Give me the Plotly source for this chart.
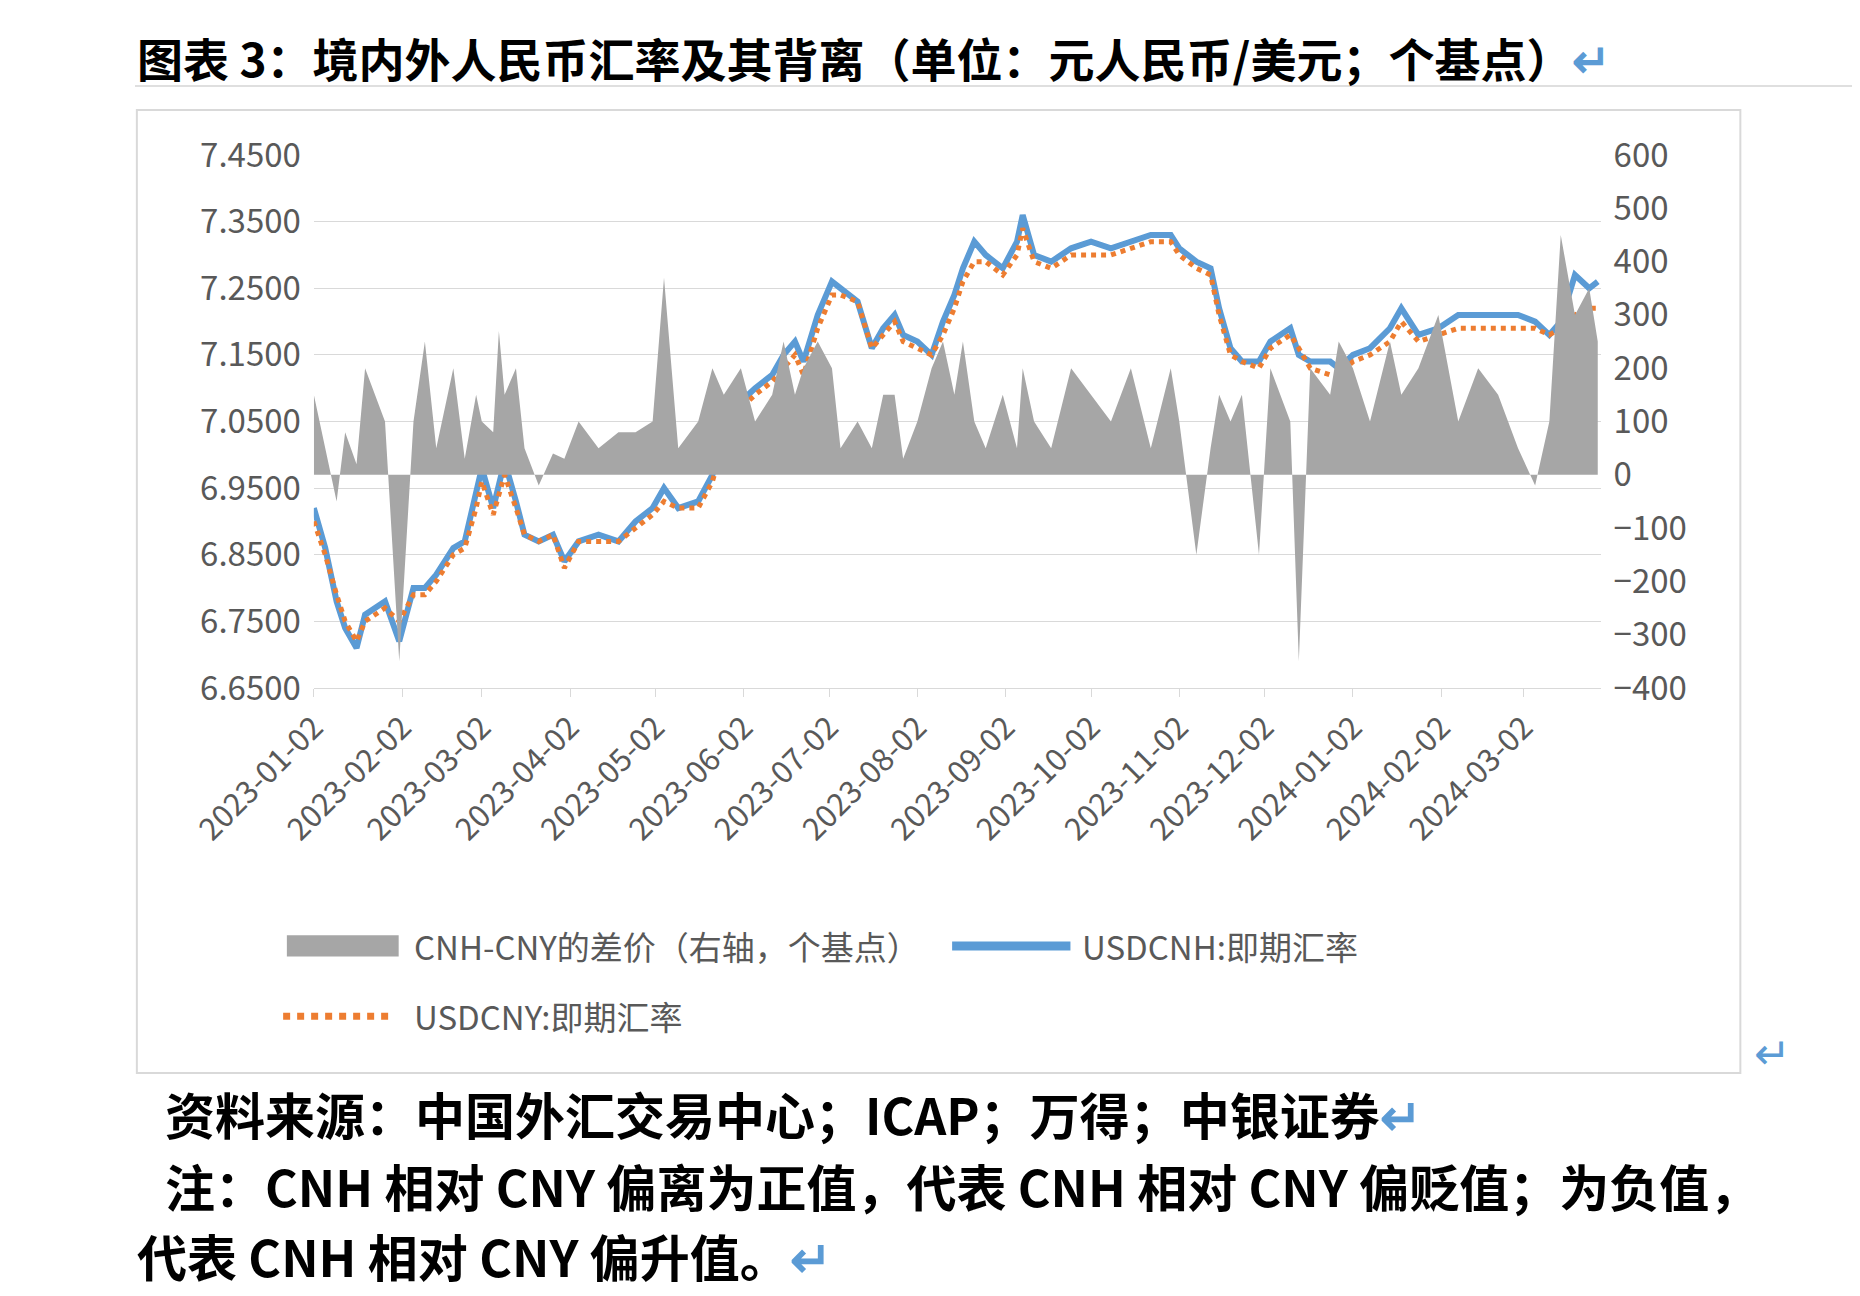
import plotly.graph_objects as go

dates = ["2023-01-02","2023-01-06","2023-01-10","2023-01-13","2023-01-17","2023-01-20","2023-01-27","2023-02-01","2023-02-06","2023-02-10",
"2023-02-14","2023-02-20","2023-02-24","2023-02-28","2023-03-02","2023-03-06","2023-03-08","2023-03-10","2023-03-14","2023-03-17",
"2023-03-22","2023-03-27","2023-03-31","2023-04-05","2023-04-12","2023-04-19","2023-04-25","2023-05-01","2023-05-05","2023-05-10",
"2023-05-17","2023-05-22","2023-05-26","2023-06-01","2023-06-06","2023-06-12","2023-06-16","2023-06-20","2023-06-23","2023-06-28",
"2023-07-03","2023-07-06","2023-07-12","2023-07-17","2023-07-21","2023-07-25","2023-07-28","2023-08-02","2023-08-07","2023-08-11",
"2023-08-15","2023-08-18","2023-08-22","2023-08-26","2023-09-01","2023-09-06","2023-09-08","2023-09-12","2023-09-18","2023-09-25",
"2023-10-02","2023-10-09","2023-10-16","2023-10-23","2023-10-30","2023-11-02","2023-11-08","2023-11-13","2023-11-16","2023-11-20",
"2023-11-24","2023-11-30","2023-12-04","2023-12-11","2023-12-14","2023-12-18","2023-12-25","2023-12-28","2024-01-02","2024-01-08",
"2024-01-15","2024-01-19","2024-01-25","2024-02-01","2024-02-08","2024-02-15","2024-02-22","2024-02-29","2024-03-06","2024-03-11",
"2024-03-15","2024-03-20","2024-03-25","2024-03-28"]
usdcnh = [6.92,6.86,6.78,6.74,6.71,6.76,6.78,6.72,6.80,6.80,
6.82,6.86,6.87,6.94,6.98,6.92,6.96,6.99,6.93,6.88,
6.87,6.88,6.84,6.87,6.88,6.87,6.90,6.92,6.95,6.92,
6.93,6.97,7.04,7.08,7.10,7.12,7.15,7.17,7.14,7.21,
7.26,7.25,7.23,7.16,7.19,7.21,7.18,7.17,7.15,7.20,
7.24,7.28,7.32,7.30,7.28,7.32,7.36,7.30,7.29,7.31,
7.32,7.31,7.32,7.33,7.33,7.31,7.29,7.28,7.22,7.16,
7.14,7.14,7.17,7.19,7.15,7.14,7.14,7.13,7.15,7.16,
7.19,7.22,7.18,7.19,7.21,7.21,7.21,7.21,7.20,7.18,
7.20,7.27,7.25,7.26]
usdcny = [6.90,6.85,6.79,6.75,6.72,6.75,6.77,6.75,6.79,6.79,
6.81,6.85,6.86,6.92,6.96,6.91,6.94,6.97,6.92,6.88,
6.87,6.88,6.83,6.87,6.87,6.87,6.89,6.91,6.93,6.92,
6.92,6.96,7.02,7.07,7.09,7.11,7.13,7.15,7.12,7.19,
7.24,7.24,7.23,7.16,7.18,7.20,7.17,7.16,7.15,7.18,
7.22,7.26,7.29,7.29,7.27,7.30,7.34,7.29,7.28,7.30,
7.30,7.30,7.31,7.32,7.32,7.30,7.28,7.27,7.21,7.15,
7.14,7.13,7.16,7.18,7.16,7.13,7.12,7.12,7.14,7.15,
7.17,7.20,7.17,7.18,7.19,7.19,7.19,7.19,7.19,7.18,
7.19,7.21,7.22,7.22]
spread = [150,50,-50,80,20,200,100,-350,100,250,
50,200,30,150,100,80,270,150,200,50,
-20,40,30,100,50,80,80,100,370,50,
100,200,150,200,100,150,250,150,200,250,
200,50,100,50,150,150,30,100,200,250,
150,250,100,50,150,50,200,100,50,200,
150,100,200,50,200,100,-150,50,150,100,
150,-150,200,100,-350,200,150,250,200,100,
250,150,200,300,100,200,150,50,-20,100,
450,300,350,250]
y_ticks = [6.65,6.75,6.85,6.95,7.05,7.15,7.25,7.35,7.45]
y2_ticks = [-400,-300,-200,-100,0,100,200,300,400,500,600]
x_ticks = ["2023-01-02","2023-02-02","2023-03-02","2023-04-02","2023-05-02","2023-06-02","2023-07-02",
"2023-08-02","2023-09-02","2023-10-02","2023-11-02","2023-12-02","2024-01-02","2024-02-02","2024-03-02"]

BLUE = "#5B9BD5"; ORANGE = "#ED7D31"; GRAY = "#A6A6A6"
TXT = "#595959"
CJK = "Noto Sans CJK SC"
W, H = 1860, 1296

fig = go.Figure()
fig.add_trace(go.Scatter(x=dates, y=spread, yaxis="y2", fill="tozeroy", mode="lines",
                         line=dict(width=0, color=GRAY), fillcolor=GRAY, showlegend=False))
fig.add_trace(go.Scatter(x=dates, y=usdcnh, mode="lines", line=dict(color=BLUE, width=6), showlegend=False))
fig.add_trace(go.Scatter(x=dates, y=usdcny, mode="lines", line=dict(color=ORANGE, width=5, dash="dot"), showlegend=False))

fig.update_layout(
    width=W, height=H, margin=dict(l=0, r=0, t=0, b=0),
    paper_bgcolor="white", plot_bgcolor="white",
    font=dict(family=CJK, color=TXT, size=30),
    xaxis=dict(domain=[0.1032, 0.8457], range=["2023-01-02", "2024-03-29"], tickvals=x_ticks,
               ticktext=x_ticks, tickangle=-45, showgrid=False, showline=True, linecolor="#D9D9D9",
               ticks="outside", tickcolor="#D9D9D9", ticklen=8, anchor="y", tickfont=dict(size=31, color=TXT)),
    yaxis=dict(domain=[0.476, 0.903], range=[6.65, 7.45], tickvals=y_ticks, tickformat=".4f",
               showgrid=True, gridcolor="#D9D9D9", zeroline=False, tickfont=dict(size=33, color=TXT), ticklabelstandoff=12),
    yaxis2=dict(overlaying="y", side="right", range=[-400, 600], tickvals=y2_ticks, showgrid=False,
                zeroline=False, tickfont=dict(size=33, color=TXT), ticklabelstandoff=12),
)

shapes = [
    dict(type="rect", xref="paper", yref="paper", x0=2/W, x1=1723/W, y0=1-1079/H, y1=1-79/H,
         line=dict(color="#D9D9D9", width=2)),
    dict(type="line", xref="paper", yref="paper", x0=0, x1=1, y0=1-54/H, y1=1-54/H,
         line=dict(color="#BFBFBF", width=1)),
    dict(type="rect", xref="paper", yref="paper", x0=163/W, x1=283/W, y0=1-958/H, y1=1-936/H,
         fillcolor=GRAY, line=dict(width=0)),
    dict(type="line", xref="paper", yref="paper", x0=877/W, x1=1004/W, y0=1-947/H, y1=1-947/H,
         line=dict(color=BLUE, width=9)),
    dict(type="line", xref="paper", yref="paper", x0=159/W, x1=277/W, y0=1-1020/H, y1=1-1020/H,
         line=dict(color=ORANGE, width=7, dash="dot")),
]
fig.update_layout(shapes=shapes)

def ann(x, y, text, size, color="black", bold=False):
    fig.add_annotation(xref="paper", yref="paper", x=x/W, y=1-y/H, text=f"<b>{text}</b>" if bold else text,
                       showarrow=False, xanchor="left", yanchor="middle",
                       font=dict(family=CJK, size=size, color=color))

ann(0, 24, "图表 3：境内外人民币汇率及其背离（单位：元人民币/美元；个基点）<span style='color:#5B9BD5'>↵</span>", 46, bold=True)
ann(297, 947, "CNH-CNY的差价（右轴，个基点）", 33, TXT)
ann(1014, 947, "USDCNH:即期汇率", 33, TXT)
ann(297, 1020, "USDCNY:即期汇率", 33, TXT)
ann(1735, 1055, "↵", 44, BLUE)
ann(30, 1120, "资料来源：中国外汇交易中心；ICAP；万得；中银证券<span style='color:#5B9BD5'>↵</span>", 50, bold=True)
ann(30, 1195, "注：CNH 相对 CNY 偏离为正值，代表 CNH 相对 CNY 偏贬值；为负值，", 50, bold=True)
ann(0, 1268, "代表 CNH 相对 CNY 偏升值。<span style='color:#5B9BD5'>↵</span>", 50, bold=True)

fig.write_html("out.html")
